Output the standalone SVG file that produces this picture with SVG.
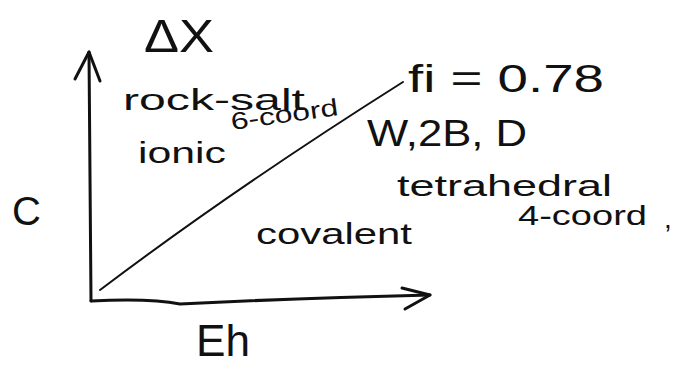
<svg xmlns="http://www.w3.org/2000/svg" width="674" height="366" viewBox="0 0 674 366">
<style>
.t{font-family:"Liberation Sans","DejaVu Sans",sans-serif;fill:#111;}
.ax{stroke:#111;stroke-width:3;fill:none;stroke-linecap:round;stroke-linejoin:round;}
.ln{stroke:#111;stroke-width:2;fill:none;stroke-linecap:round;}
</style>
<rect width="674" height="366" fill="#fff"/>
<g id="connectors">
<path class="ax" d="M89,52 L91,301" stroke-width="3.5"/>
<path class="ax" d="M75,79 L89,52 L100,81"/>
<path class="ax" d="M91,301 Q150,298 180,304 Q300,298 430,295"/>
<path class="ax" d="M402,288 L430,295 L405,309"/>
<path class="ln" d="M100,290 Q235,188 403,82"/>
</g>
<g id="axis-y-label"><text class="t" x="144" y="52" font-size="46" textLength="70" lengthAdjust="spacingAndGlyphs">ΔX</text></g>
<g id="axis-x-label"><text class="t" x="196" y="356" font-size="44" textLength="54" lengthAdjust="spacingAndGlyphs">Eh</text></g>
<g id="label-c"><text class="t" x="12" y="225" font-size="40">C</text></g>
<g id="rock-salt"><text class="t" x="123" y="110" font-size="30" textLength="182" lengthAdjust="spacingAndGlyphs">rock-salt</text></g>
<g id="six-coord"><text class="t" x="232" y="130" font-size="24" textLength="108" lengthAdjust="spacingAndGlyphs" transform="rotate(-8 232 130)">6-coord</text></g>
<g id="ionic"><text class="t" x="138" y="163" font-size="30" textLength="88" lengthAdjust="spacingAndGlyphs">ionic</text></g>
<g id="fi"><text class="t" x="408" y="92" font-size="38" textLength="196" lengthAdjust="spacingAndGlyphs">fi = 0.78</text></g>
<g id="w2bd"><text class="t" x="367" y="146" font-size="36" textLength="160" lengthAdjust="spacingAndGlyphs">W,2B, D</text></g>
<g id="tetrahedral"><text class="t" x="397" y="196" font-size="30" textLength="215" lengthAdjust="spacingAndGlyphs">tetrahedral</text></g>
<g id="four-coord"><text class="t" x="518" y="225" font-size="28" textLength="129" lengthAdjust="spacingAndGlyphs">4-coord</text><text class="t" x="664" y="228" font-size="28">,</text></g>
<g id="covalent"><text class="t" x="256" y="244" font-size="30" textLength="156" lengthAdjust="spacingAndGlyphs">covalent</text></g>
</svg>
